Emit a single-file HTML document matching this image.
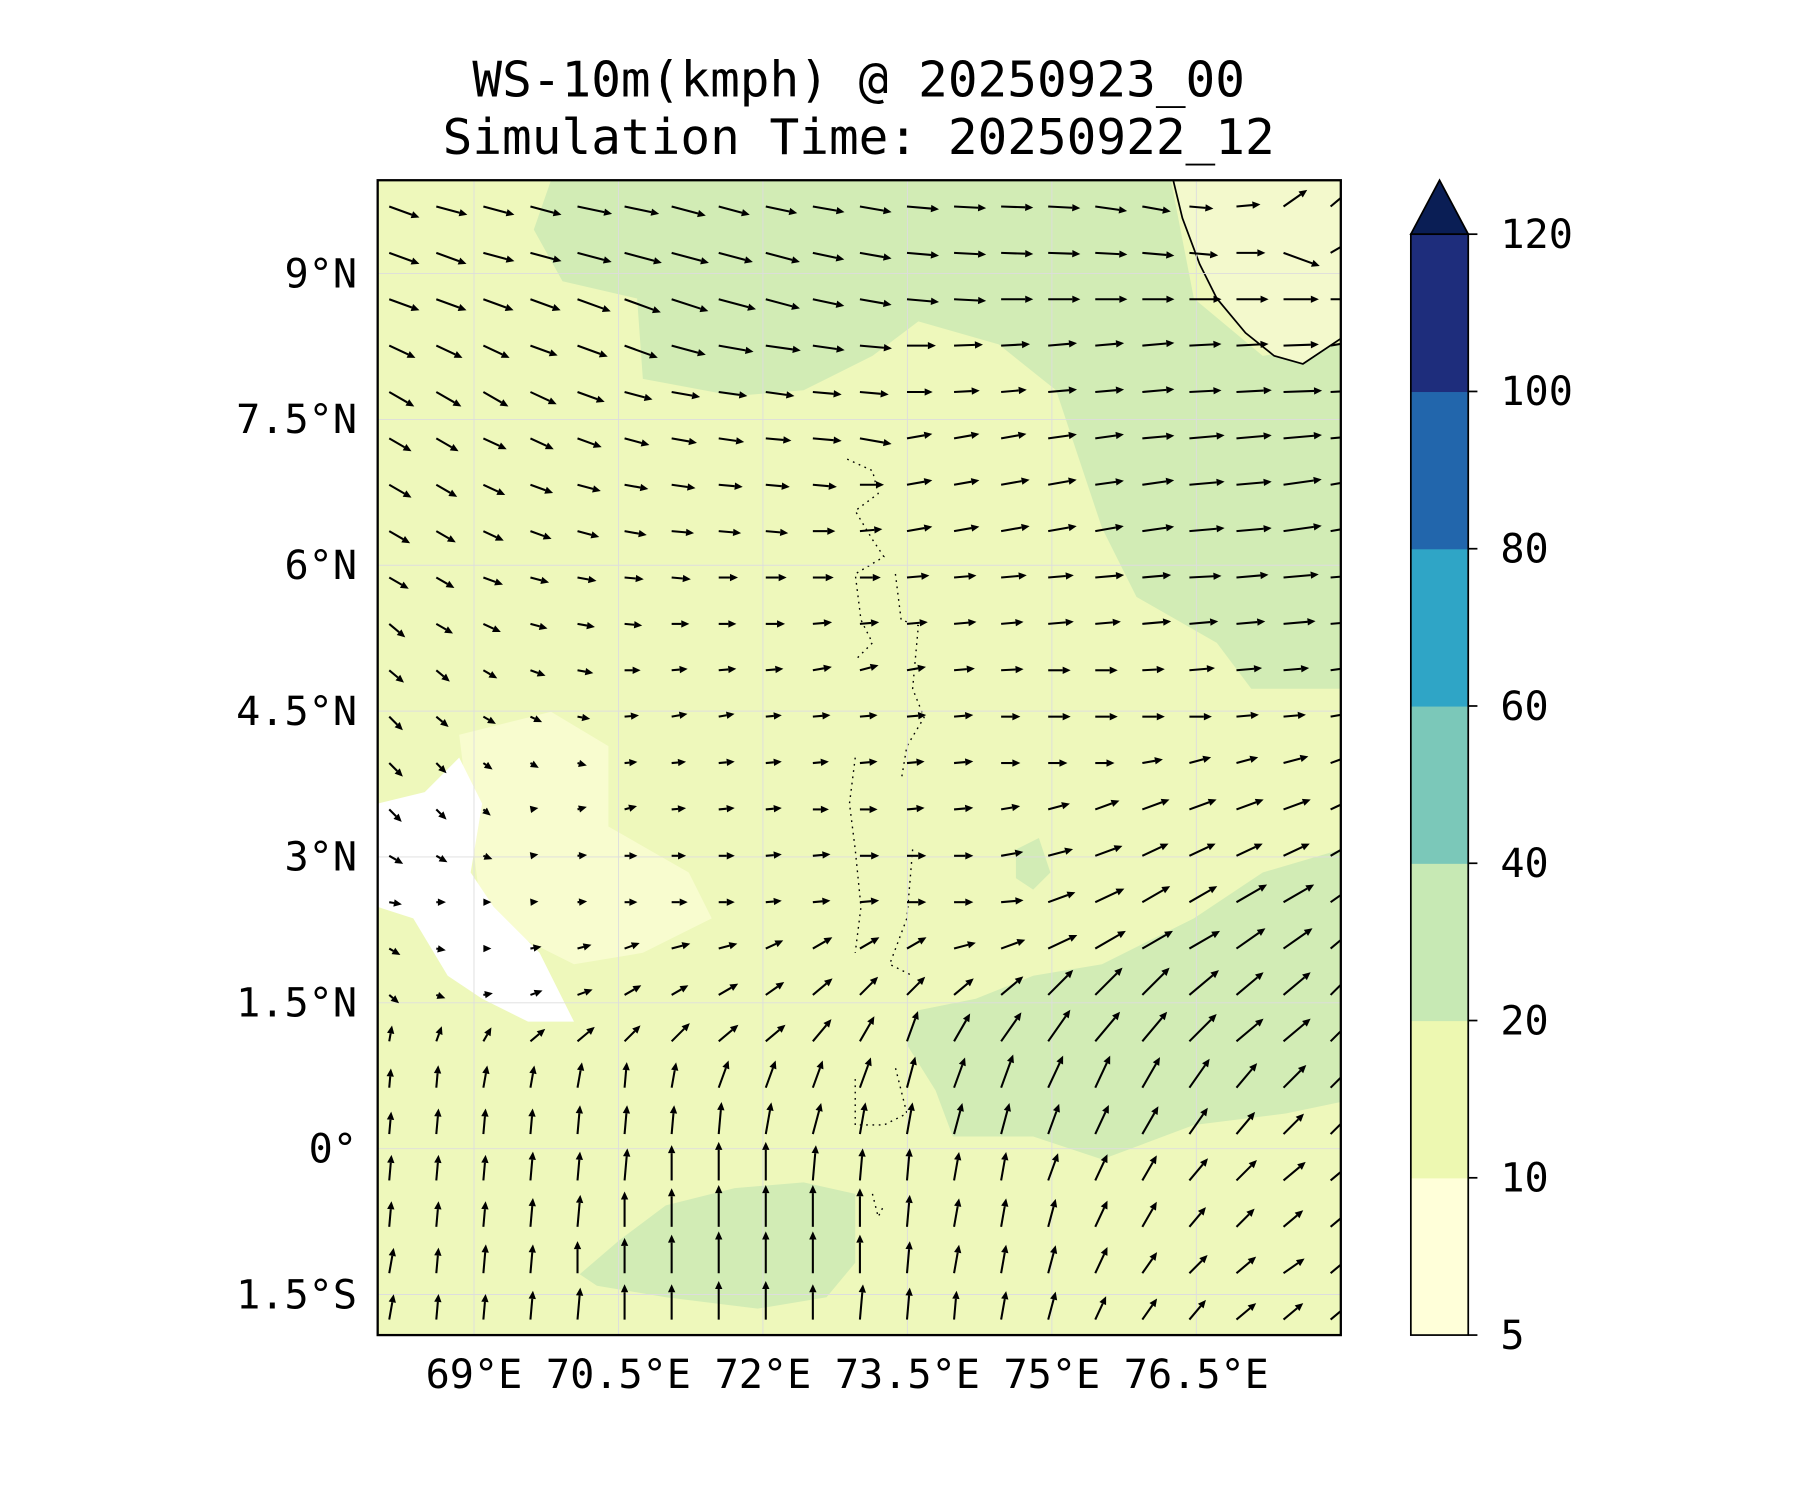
<!DOCTYPE html>
<html><head><meta charset="utf-8"><style>
html,body{margin:0;padding:0;background:#fff}
svg{display:block}
text{font-family:"DejaVu Sans Mono","Liberation Mono",monospace;fill:#000}
</style></head><body>
<svg id="chart" width="1800" height="1500" viewBox="0 0 1568 1306.67" xmlns="http://www.w3.org/2000/svg">
<g>
<text x="748" y="84" font-size="43" text-anchor="middle">WS-10m(kmph) @ 20250923_00</text>
<text x="748" y="134" font-size="43" text-anchor="middle">Simulation Time: 20250922_12</text>
</g>
<defs><clipPath id="mapclip"><rect x="329" y="157" width="839" height="1006"/></clipPath></defs>
<g clip-path="url(#mapclip)">
<rect x="329" y="157" width="839" height="1006" fill="#eef8bb"/>
<path fill="#f8fccf" d="M400,640 L480,620 L530,650 L530,720 L600,760 L620,800 L560,830 L500,840 L420,800 Z"/>
<path fill="#ffffff" d="M329,700 L370,690 L400,660 L420,700 L410,760 L430,790 L470,830 L500,890 L460,890 L420,870 L390,850 L360,800 L329,790 Z"/>
<path fill="#d2ecb5" d="M480,157 L1020,157 L1040,260 L1100,310 L1168,300 L1168,600 L1090,600 L1060,560 L990,520 L960,460 L940,400 L920,340 L870,300 L800,280 L760,310 L700,340 L640,345 L560,330 L555,260 L490,245 L465,200 Z"/>
<path fill="#d2ecb5" d="M800,880 L850,870 L900,850 L960,840 L1040,800 L1100,760 L1168,740 L1168,960 L1120,970 L1040,980 L960,1010 L900,990 L830,990 L815,950 L790,910 Z"/>
<path fill="#d2ecb5" d="M505,1110 L540,1080 L580,1050 L640,1035 L700,1030 L745,1040 L745,1100 L720,1130 L660,1140 L580,1130 L520,1120 Z"/>
<path fill="#d2ecb5" d="M885,740 L905,730 L915,760 L900,775 L885,765 Z"/>
<path fill="#f3f9cc" stroke="#000" stroke-width="1.5" d="M1022,157 L1030,190 L1045,230 L1060,260 L1085,290 L1110,310 L1135,317 L1168,295 L1168,157 Z"/>
<path fill="none" stroke="#000" stroke-width="1.2" stroke-dasharray="1.5,4" d="M738,400 L760,410 L765,430 L745,445 L760,470 L770,485 L745,500 L750,540 L760,560 L745,575 M780,500 L785,540 L800,545 L795,600 L805,625 L790,650 L785,680 M745,660 L740,700 L745,740 L750,790 L745,830 M795,740 L790,800 L775,840 L795,850 M745,940 L745,980 L770,980 L790,970 L780,930 M760,1040 L765,1060 L770,1050"/>
<g id="grid" stroke="#ddd" stroke-width="0.8"></g>
<g id="arrows"></g>
</g>
<rect x="329" y="157" width="839" height="1006" fill="none" stroke="#000" stroke-width="2"/>
<g id="xticks"></g>
<g id="yticks"></g>
<g id="cbar"></g>
</svg>
<script>
const NS='http://www.w3.org/2000/svg';
const lonTicks=[69,70.5,72,73.5,75,76.5];
const lonLabels=['69°E','70.5°E','72°E','73.5°E','75°E','76.5°E'];
const latTicks=[9,7.5,6,4.5,3,1.5,0,-1.5];
const latLabels=['9°N','7.5°N','6°N','4.5°N','3°N','1.5°N','0°','1.5°S'];
const cbLevels=[5,10,20,40,60,80,100,120];
const cbColors=['#ffffd9','#edf8b1','#c7e9b4','#7bc8b9','#2fa5c6','#2266ac','#1e2d7c'];
const cbExtendColor='#0a1e55';
const arrowLon0=68.12, arrowLonStep=0.4887, arrowLat0=9.69, arrowLatStep=0.477;
const windAngle=[
[-20,-15,-15,-15,-12,-12,-15,-15,-12,-10,-10,-5,-3,-2,-3,-8,-10,-5,5,35,40],
[-20,-20,-15,-15,-15,-15,-15,-15,-15,-12,-10,-5,-3,-2,-2,-3,-5,-5,0,-20,30],
[-20,-20,-20,-20,-20,-20,-18,-15,-15,-12,-10,-5,-3,0,0,0,0,0,0,0,0],
[-25,-25,-25,-20,-20,-20,-15,-10,-8,-8,-5,0,2,3,5,5,5,3,3,2,10],
[-30,-30,-30,-25,-20,-15,-10,-8,-8,-5,-5,0,3,5,5,5,5,3,3,2,3],
[-30,-30,-25,-25,-20,-15,-10,-8,-5,-5,-10,10,10,10,8,8,5,5,5,5,5],
[-30,-30,-25,-20,-15,-10,-8,-5,-5,-5,0,10,10,10,10,8,8,5,5,8,10],
[-30,-30,-25,-20,-15,-10,-5,-5,-5,0,5,10,10,10,10,10,8,5,5,8,10],
[-30,-30,-20,-15,-10,-5,-5,0,0,0,0,5,5,5,5,5,5,3,5,5,5],
[-40,-30,-25,-15,-10,-5,0,0,0,5,5,5,5,5,5,5,5,5,5,5,5],
[-40,-40,-30,-20,-10,0,5,5,5,10,15,10,5,3,0,0,3,5,5,5,8],
[-45,-40,-30,-25,-10,5,10,10,5,5,5,5,5,0,0,0,0,0,5,5,10],
[-45,-45,-35,-30,-15,5,5,5,5,5,5,5,5,0,0,0,10,15,15,15,20],
[-45,-45,-40,10,15,15,5,5,5,0,0,5,5,10,15,20,20,20,20,20,25],
[-30,-30,-20,10,5,0,0,0,5,5,0,0,0,10,15,20,25,25,25,25,30],
[-10,0,0,5,5,0,0,0,5,5,5,0,0,5,20,25,30,30,30,30,35],
[-30,-10,0,10,15,20,15,15,25,30,30,30,15,20,25,30,30,30,35,35,40],
[-40,-20,10,20,20,30,30,30,35,40,45,45,40,40,45,45,45,40,40,40,45],
[80,70,60,40,40,45,45,40,40,50,60,70,60,55,55,50,50,45,40,40,45],
[85,85,80,80,80,85,80,70,70,70,70,75,70,70,65,65,60,55,50,45,45],
[85,85,85,85,85,85,85,85,80,75,80,80,75,75,70,65,60,55,50,45,45],
[85,85,85,85,85,85,90,90,90,85,85,85,80,80,70,65,60,50,45,40,40],
[85,85,85,85,85,90,90,90,90,90,90,85,80,80,75,65,60,50,45,40,40],
[80,85,85,85,90,90,90,90,90,90,90,85,80,80,75,65,55,45,40,35,40],
[80,85,85,85,85,90,90,90,90,90,85,85,85,80,75,65,55,50,40,40,40]];
const windSpeed=[
[20,20,20,20,22,22,22,20,20,20,20,20,20,20,20,20,18,15,15,18,15],
[20,20,20,20,22,24,24,22,22,20,20,20,20,20,20,20,20,18,18,24,15],
[20,20,20,20,22,24,24,24,22,20,20,20,20,20,20,20,20,20,20,22,22],
[18,18,18,18,20,22,22,22,22,20,20,18,18,18,18,18,20,20,20,22,24],
[18,18,18,18,18,18,18,18,18,18,18,16,16,16,18,18,20,20,22,24,24],
[16,16,16,16,16,16,16,16,16,18,20,16,16,16,18,18,20,22,22,24,24],
[16,15,15,15,15,15,15,15,15,15,15,16,16,18,18,18,20,22,22,24,24],
[15,14,14,14,14,14,14,14,14,14,14,16,16,18,18,18,20,22,22,24,22],
[14,13,13,12,12,12,12,12,13,13,13,14,14,16,16,18,18,20,20,22,22],
[13,12,12,11,11,11,11,11,12,12,12,13,14,14,16,16,18,18,18,20,20],
[12,11,10,10,10,10,10,11,11,12,12,12,13,14,14,14,14,16,16,16,18],
[12,10,9,8,8,9,10,10,10,11,11,12,12,12,14,14,14,14,14,14,16],
[12,9,7,6,6,8,9,10,10,10,11,11,12,12,12,12,13,14,14,16,16],
[11,9,6,5,6,8,9,10,10,10,11,11,12,12,14,16,18,18,18,18,18],
[10,8,6,5,6,8,9,10,10,11,12,12,12,14,16,18,18,18,18,18,20],
[8,6,5,5,6,8,10,10,10,11,12,12,12,14,18,20,20,20,22,22,22],
[8,6,5,7,9,10,12,12,12,14,14,14,14,16,20,22,22,22,22,22,22],
[8,6,6,8,10,12,12,14,14,16,16,16,16,18,22,24,24,24,22,22,22],
[10,10,10,12,14,14,16,16,16,18,18,20,20,22,24,24,24,24,22,22,22],
[12,14,14,14,16,16,16,18,18,18,20,20,20,22,22,22,22,22,20,20,20],
[14,16,16,16,18,18,18,20,20,20,20,20,20,20,20,20,20,20,18,18,18],
[16,16,16,18,18,20,22,24,24,22,20,20,18,18,18,18,18,18,18,18,18],
[16,16,16,18,20,22,24,26,26,26,24,20,18,18,18,18,18,16,16,16,18],
[16,16,18,18,20,22,24,26,26,26,24,20,18,18,18,18,16,16,16,16,18],
[16,16,16,18,20,22,22,24,24,22,22,20,18,18,18,16,16,16,16,16,16]];
function xScale(lon){return 329+(lon-68)*83.9;}
function yScale(lat){return 157+(9.96-lat)*84.7;}
function cbY(i){return 1163-i*137;}
function mk(tag,attrs,parent){const e=document.createElementNS(NS,tag);for(const k in attrs)e.setAttribute(k,attrs[k]);parent.appendChild(e);return e;}
const grid=document.getElementById('grid');
lonTicks.forEach(function(lon){
  const l=mk('line',{x1:xScale(lon),x2:xScale(lon),y1:157,y2:1163},grid);
  
  
});
latTicks.forEach(function(lat){
  const l=mk('line',{x1:329,x2:1168,y1:yScale(lat),y2:yScale(lat)},grid);
  
  
});
const xt=document.getElementById('xticks');
lonTicks.forEach(function(lon,i){
  const t=mk('text',{x:xScale(lon),y:1209,'font-size':'35','text-anchor':'middle'},xt);
  t.textContent=lonLabels[i];
  
  
});
const yt=document.getElementById('yticks');
latTicks.forEach(function(lat,i){
  const t=mk('text',{x:311,y:yScale(lat)+12,'font-size':'35','text-anchor':'end'},yt);
  t.textContent=latLabels[i];
  
  
});
const ag=document.getElementById('arrows');
windAngle.forEach(function(row,r){
  row.forEach(function(ang,c){
    const sp=windSpeed[r][c];
    const x0=xScale(arrowLon0+c*arrowLonStep), y0=yScale(arrowLat0-r*arrowLatStep);
    const L=sp*1.4, a=ang*Math.PI/180;
    const dx=Math.cos(a), dy=-Math.sin(a);
    const x1=x0+dx*L, y1=y0+dy*L;
    const hl=7, hw=3.2;
    const bx=x1-dx*hl, by=y1-dy*hl;
    const g=mk('g',{},ag);
    
    
    mk('line',{x1:x0,y1:y0,x2:bx,y2:by,stroke:'#000','stroke-width':'1.8'},g);
    mk('polygon',{points:x1+','+y1+' '+(bx-dy*hw)+','+(by+dx*hw)+' '+(bx+dy*hw)+','+(by-dx*hw),fill:'#000'},g);
  });
});
const cb=document.getElementById('cbar');
cbColors.forEach(function(col,i){
  const r=mk('rect',{x:1229,y:cbY(i+1),width:50,height:cbY(i)-cbY(i+1)+0.5,fill:col},cb);
  
  
});
const tri=mk('polygon',{points:'1229,'+cbY(cbLevels.length-1)+' 1254,157 1279,'+cbY(cbLevels.length-1),fill:cbExtendColor,stroke:'#000','stroke-width':'1.5'},cb);


const fr=mk('rect',{x:1229,y:cbY(cbLevels.length-1),width:50,height:cbY(0)-cbY(cbLevels.length-1),fill:'none',stroke:'#000','stroke-width':'1.5'},cb);


cbLevels.forEach(function(v,i){
  mk('line',{x1:1279,x2:1287,y1:cbY(i),y2:cbY(i),stroke:'#000','stroke-width':'1.5'},cb);
  const t=mk('text',{x:1307,y:cbY(i)+12,'font-size':'35'},cb);
  t.textContent=String(v);
  
  
});
</script>
</body></html>
